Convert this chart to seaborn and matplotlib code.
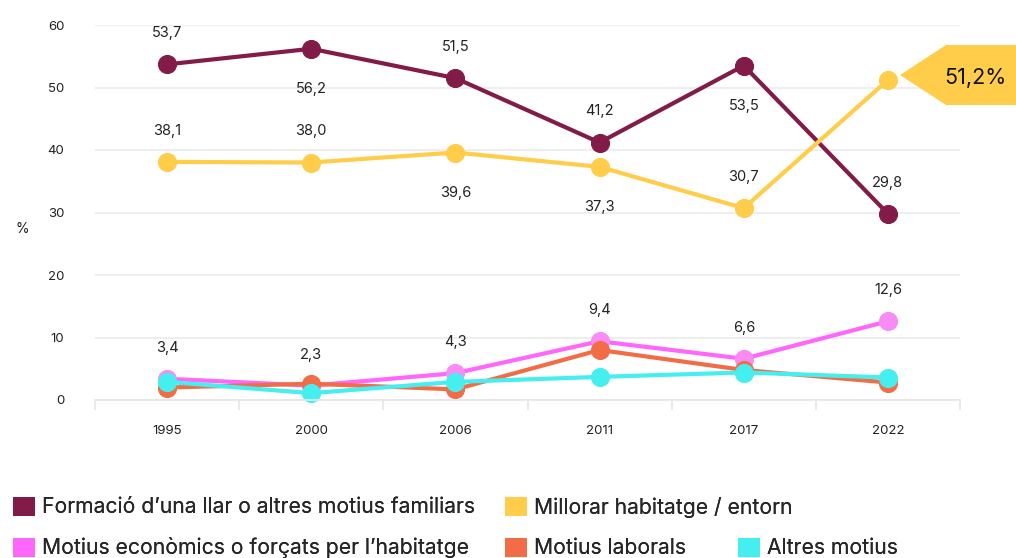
import numpy as np
import pandas as pd
import matplotlib
matplotlib.use("Agg")
import matplotlib.pyplot as plt
import seaborn as sns
from matplotlib.patches import Polygon, Patch

years = ["1995", "2000", "2006", "2011", "2017", "2022"]
formacio = [53.7, 56.2, 51.5, 41.2, 53.5, 29.8]
millorar = [38.1, 38.0, 39.6, 37.3, 30.7, 51.2]
economics = [3.4, 2.3, 4.3, 9.4, 6.6, 12.6]
laborals = [2.0, 2.6, 1.7, 8.0, 4.8, 2.8]
altres = [2.9, 1.1, 2.9, 3.7, 4.4, 3.6]

series_names = [
    "Formació d’una llar o altres motius familiars",
    "Millorar habitatge / entorn",
    "Motius econòmics o forçats per l’habitatge",
    "Motius laborals",
    "Altres motius",
]
colors = ["#821b47", "#ffcd4a", "#ff66fb", "#f26d45", "#45efef"]
marker_colors = ["#821b47", "#ffcd4a", "#f98cf4", "#f26d45", "#45efef"]

# label placement: +1 above, -1 below, 0 none
formacio_pos = [1, -1, 1, 1, -1, 1]
millorar_pos = [1, 1, -1, -1, 1, 0]
economics_pos = [1, 1, 1, 1, 1, 1]

sns.set_theme(style="white")
plt.rcParams["font.family"] = ["Inter", "DejaVu Sans"]

df = pd.DataFrame({
    "year": years * 5,
    "value": formacio + millorar + economics + laborals + altres,
    "serie": np.repeat(series_names, len(years)),
})

fig = plt.figure(figsize=(10.16, 5.58), dpi=100)
ax = fig.add_axes([95 / 1016, 1 - 400 / 558, 865 / 1016, 375 / 558])

for name, col, mcol in zip(series_names, colors, marker_colors):
    sub = df[df["serie"] == name]
    sns.lineplot(data=sub, x="year", y="value", color=col, linewidth=3,
                 marker="o", markersize=13, markerfacecolor=mcol,
                 markeredgecolor=mcol, ax=ax, clip_on=False, sort=False)

def label(vals, pos):
    for i, (v, p) in enumerate(zip(vals, pos)):
        if p == 0:
            continue
        off = 31 if p > 0 else -40
        ax.annotate(f"{v:.1f}".replace(".", ","), (i, v), xytext=(0, off),
                    textcoords="offset pixels", ha="center", va="center",
                    fontsize=10.5, color="#222222")

label(formacio, formacio_pos)
label(millorar, millorar_pos)
label(economics, economics_pos)

ax.set_xlim(-0.5, 5.5)
ax.set_ylim(0, 60)
ax.set_yticks([0, 10, 20, 30, 40, 50, 60])
ax.set_xticks(range(len(years)))
ax.set_xticklabels(years)
ax.set_xlabel("")
ax.set_ylabel("")
ax.grid(axis="y", color="#ebebeb", linewidth=1.2)
ax.set_axisbelow(True)
for s in ["top", "right", "left"]:
    ax.spines[s].set_visible(False)
ax.spines["bottom"].set_color("#e6e6e6")
ax.spines["bottom"].set_linewidth(1.2)
ax.tick_params(axis="y", length=0, pad=22, labelsize=9.5, labelcolor="#222222")
ax.tick_params(axis="x", length=0, pad=18, labelsize=9.5, labelcolor="#222222")
ax.set_xticks(np.arange(-0.5, 6, 1), minor=True)
ax.tick_params(axis="x", which="minor", length=7, width=1.2, color="#e6e6e6",
               bottom=True)

fig.text(22 / 1016, 1 - 229 / 558, "%", ha="center", va="center",
         fontsize=10, color="#222222")

# callout for the last value
tri = Polygon([[900 / 1016, 1 - 75 / 558], [946 / 1016, 1 - 45 / 558],
               [1, 1 - 45 / 558], [1, 1 - 105 / 558], [946 / 1016, 1 - 105 / 558]],
              closed=True, transform=fig.transFigure, facecolor="#ffcd4a",
              edgecolor="none")
fig.patches.append(tri)
fig.text(975 / 1016, 1 - 78 / 558, f"{millorar[-1]:.1f}%".replace(".", ","),
         ha="center", va="center", fontsize=15.5, color="#111111")

# legend items placed like the original flow layout
legend_slots = [(5, 507), (497, 507), (5, 548), (497, 548), (730, 548)]
for (px, py), name, col in zip(legend_slots, series_names, colors):
    leg = fig.legend([Patch(facecolor=col, edgecolor="none")], [name],
                     loc="center left", bbox_to_anchor=(px / 1016, 1 - py / 558),
                     frameon=False, fontsize=15.2, handlelength=1.0,
                     handleheight=1.0, handletextpad=0.35, borderaxespad=0)
    fig.add_artist(leg)

fig.savefig("out.png", dpi=100)
